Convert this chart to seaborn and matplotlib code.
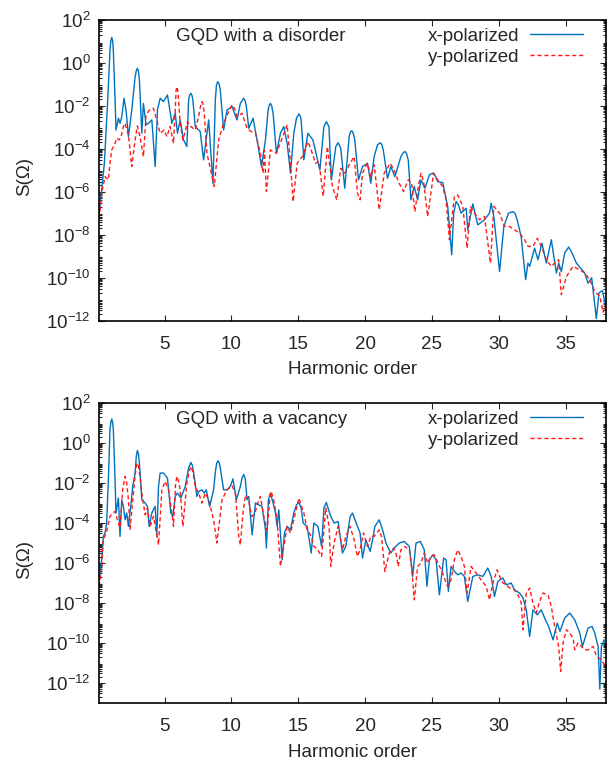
import numpy as np
import pandas as pd
import matplotlib
matplotlib.use('Agg')
import matplotlib.pyplot as plt
import seaborn as sns
from matplotlib.ticker import FixedLocator, LogLocator, NullFormatter

# values: harmonic order and log10 S(Omega)

# --- GQD with a disorder ---
dis_xpol_h = [0.12, 0.50, 0.75, 0.92, 1.05, 1.17, 1.30, 1.37, 1.55, 1.67,
              1.80, 1.97, 2.12, 2.30, 2.55, 2.80, 2.97, 3.12, 3.30, 3.42,
              3.62, 3.80, 4.05, 4.30, 4.47, 4.67, 4.92, 5.22, 5.55, 5.80,
              5.97, 6.17, 6.42, 6.67, 6.80, 6.97, 7.12, 7.30, 7.67, 7.92,
              8.30, 8.62, 8.80, 8.97, 9.17, 9.42, 9.67, 10.05, 10.42, 10.67,
              10.92, 11.12, 11.30, 11.62, 11.92, 12.25, 12.55, 12.75, 12.92, 13.12,
              13.37, 13.67, 13.92, 14.17, 14.42, 14.67, 14.87, 15.05, 15.22, 15.42,
              15.72, 16.10, 16.62, 16.92, 17.10, 17.30,
              17.48, 17.81, 17.98, 18.18, 18.48, 18.81, 19.01, 19.23, 19.51, 19.81,
              20.18, 20.43, 20.68, 20.93, 21.13, 21.36, 21.68, 21.93, 22.23, 22.68,
              22.98, 23.23, 23.43, 23.68, 23.93, 24.18, 24.48, 24.81, 25.06, 25.43,
              25.81, 26.18, 26.48, 26.63, 26.81, 26.98, 27.18, 27.56, 27.68, 28.06,
              28.43, 28.93, 29.31, 29.43, 29.63, 30.06, 30.38, 30.73, 31.06, 31.38,
              31.68, 32.01, 32.18, 32.31, 32.68, 32.93, 33.23, 33.56, 33.93, 34.31,
              34.48, 34.68, 34.93, 35.23, 35.48, 35.81, 36.43, 36.68, 36.95, 37.30,
              37.50, 37.75, 38.00]
dis_xpol_logS = [-6.99, -4.67, -1.72, 0.60, 1.19, 0.60, -1.72, -3.12, -2.57, -2.81,
                 -2.50, -1.64, -2.19, -3.43, -2.19, -0.64, -0.25, -0.79, -3.27, -1.88,
                 -2.88, -2.81, -2.65, -4.82, -2.19, -1.64, -1.80, -1.49, -2.81, -2.34,
                 -3.27, -2.65, -3.58, -3.89, -1.72, -1.41, -1.72, -2.96, -3.19, -4.51,
                 -2.65, -5.60, -1.72, -0.87, -1.26, -3.12, -2.19, -2.03, -2.65, -1.88,
                 -1.64, -2.03, -3.04, -2.57, -3.58, -4.82, -3.58, -2.19, -1.88, -2.34,
                 -4.20, -3.27, -2.96, -3.74, -5.13, -3.27, -2.57, -2.37, -2.65, -4.51,
                 -3.27, -3.58, -4.98, -2.96, -2.73, -2.96,
                 -5.44, -3.89, -3.71, -3.97, -5.83, -3.43, -3.15, -3.58, -5.44, -4.82,
                 -4.67, -5.60, -4.36, -3.81, -3.71, -4.05, -5.37, -4.82, -5.29, -4.36,
                 -4.12, -4.51, -6.37, -5.75, -6.37, -5.44, -5.83, -5.21, -5.13, -5.52,
                 -5.57, -6.68, -8.93, -6.99, -6.45, -6.60, -6.99, -6.76, -7.77, -6.56,
                 -7.54, -7.30, -6.99, -6.53, -7.15, -9.71, -7.61, -6.99, -6.92, -7.30,
                 -8.11, -10.09, -9.32, -9.47, -8.62, -9.16, -8.39, -9.32, -8.23, -9.78,
                 -9.32, -9.71, -8.85, -8.57, -8.85, -9.32, -9.78, -10.25, -10.0, -11.9,
                 -10.7, -10.6, -11.3]
# extra points read around the tops of the larger arches
dis_xpol_arch_h = [0.98, 1.12, 2.89, 3.05, 6.88, 7.05, 8.88, 9.07, 11.03, 12.83,
                   13.02, 15.14, 18.90, 19.12, 21.25, 22.85, 23.10, 25.25, 31.22]
dis_xpol_arch_logS = [1.02, 1.02, -0.35, -0.38, -1.50, -1.50, -1.05, -0.95, -1.75, -1.97,
                      -2.00, -2.45, -3.22, -3.28, -3.80, -4.18, -4.22, -5.25, -7.00]

dis_ypol_h = [0.12, 0.30, 0.55, 0.80, 0.92, 1.05, 1.30, 1.42, 1.62, 1.75,
              1.92, 2.05, 2.30, 2.55, 2.80, 2.97, 3.17, 3.42, 3.62, 3.87,
              4.17, 4.42, 4.67, 4.97, 5.17, 5.42, 5.67, 5.80, 5.92, 6.05,
              6.17, 6.37, 6.55, 6.72, 6.97, 7.30, 7.55, 7.80, 7.97, 8.17,
              8.42, 8.72, 9.05, 9.42, 9.80, 10.05, 10.42, 10.80, 11.17, 11.47,
              11.80, 12.17, 12.37, 12.47, 12.62, 12.92, 13.37, 13.75, 14.17, 14.42,
              14.62, 14.92, 15.30, 15.72, 15.97, 16.30, 16.55, 16.87, 17.18, 17.56,
              17.88, 18.18, 18.48, 18.88, 19.18, 19.43, 19.63, 19.81, 20.18, 20.43,
              20.68, 21.06, 21.43, 21.88, 22.18, 22.48, 22.88, 23.23, 23.48, 23.73,
              23.98, 24.18, 24.38, 24.68, 25.13, 25.43, 25.81, 26.06, 26.31, 26.68,
              26.93, 27.31, 27.63, 27.88, 28.18, 28.56, 28.93, 29.38, 29.63, 30.06,
              30.43, 30.81, 31.18, 31.56, 31.93, 32.18, 32.56, 32.88, 33.18, 33.56,
              33.93, 34.18, 34.48, 34.68, 35.06, 35.56, 36.06, 36.43, 36.81, 37.18,
              37.56, 37.80, 38.00]
dis_ypol_logS = [-7.23, -6.06, -5.29, -5.44, -4.67, -4.05, -3.74, -3.50, -3.58, -3.43,
                 -2.96, -2.81, -3.35, -4.82, -3.58, -2.93, -3.43, -4.36, -2.42, -2.19,
                 -2.11, -2.65, -3.27, -3.12, -3.43, -2.96, -3.74, -2.19, -1.10, -1.72,
                 -2.81, -3.58, -3.19, -2.73, -2.96, -3.12, -2.50, -1.80, -2.34, -4.20,
                 -4.90, -5.75, -3.58, -2.81, -2.26, -1.95, -2.50, -2.34, -3.04, -3.19,
                 -3.27, -4.20, -5.13, -4.05, -5.98, -4.05, -4.20, -3.58, -2.88, -4.67,
                 -6.45, -4.67, -4.36, -3.66, -4.05, -4.67, -4.59, -6.20, -3.89, -5.75,
                 -6.37, -4.90, -5.13, -4.67, -4.36, -6.06, -6.37, -5.13, -4.67, -5.29,
                 -4.74, -6.84, -5.13, -4.67, -4.98, -5.52, -5.98, -5.44, -5.60, -6.92,
                 -5.75, -5.13, -5.52, -7.15, -5.13, -5.44, -5.75, -6.37, -8.23, -6.22,
                 -6.14, -6.68, -8.62, -6.68, -6.99, -7.30, -7.15, -9.32, -6.68, -6.99,
                 -7.61, -7.61, -7.77, -7.92, -8.23, -8.54, -8.54, -8.16, -8.54, -9.16,
                 -9.47, -9.32, -9.16, -10.79, -9.94, -9.47, -9.63, -9.78, -10.09, -10.64,
                 -10.87, -11.6, -11.2]
dis_ypol_arch_h = [5.86, 5.99, 7.68, 7.89, 10.22]
dis_ypol_arch_logS = [-1.30, -1.30, -2.05, -1.95, -2.10]

# --- GQD with a vacancy ---
vac_xpol_h = [0.12, 0.30, 0.42, 0.55, 0.67, 0.80, 0.92, 1.05, 1.17, 1.30,
              1.37, 1.55, 1.67, 1.80, 1.92, 2.05, 2.17, 2.30, 2.47, 2.62,
              2.80, 2.97, 3.12, 3.30, 3.55, 3.72, 3.85, 4.05, 4.30, 4.42,
              4.55, 4.67, 4.92, 5.22, 5.47, 5.62, 5.80, 5.97, 6.22, 6.55,
              6.80, 6.97, 7.17, 7.42, 7.55, 7.80, 7.97, 8.12, 8.37, 8.67,
              8.82, 9.00, 9.17, 9.42, 9.67, 9.92, 10.12, 10.37, 10.67, 10.92,
              11.17, 11.30, 11.55, 11.80, 12.05, 12.30, 12.55, 12.62, 12.77, 12.92,
              13.12, 13.30, 13.42, 13.55, 13.80, 13.97, 14.17, 14.42, 14.67, 14.87,
              15.05, 15.22, 15.37, 15.67, 15.97, 16.17, 16.47, 16.75, 16.92, 17.10,
              17.43, 17.68, 17.98, 18.31, 18.56, 18.88, 19.06, 19.43, 19.63, 19.81,
              20.06, 20.38, 20.56, 20.73, 21.06, 21.31, 21.56, 21.93, 22.18, 22.56,
              22.93, 23.31, 23.56, 23.81, 24.13, 24.43, 24.63, 24.81, 25.06, 25.31,
              25.56, 25.88, 26.06, 26.23, 26.43, 26.68, 26.93, 27.18, 27.43, 27.68,
              28.06, 28.43, 28.81, 29.18, 29.43, 29.68, 29.93, 30.31, 30.56, 30.93,
              31.18, 31.56, 31.81, 32.06, 32.31, 32.56, 32.88, 33.18, 33.43, 33.73,
              34.06, 34.38, 34.58, 34.93, 35.31, 35.68, 36.06, 36.26, 36.68, 36.98,
              37.18, 37.43, 37.56, 37.68, 37.88, 38.00]
vac_xpol_logS = [-6.84, -5.84, -4.67, -4.50, -4.00, -1.84, 0.67, 1.20, 0.67, -1.84,
                 -3.50, -2.75, -4.67, -2.84, -3.17, -3.84, -3.50, -4.17, -3.17, -2.17,
                 -1.50, -0.37, -1.00, -2.84, -3.00, -3.17, -4.17, -3.50, -3.17, -4.67,
                 -2.17, -1.50, -1.50, -1.75, -3.50, -3.67, -2.67, -2.50, -2.75, -2.17,
                 -1.25, -0.97, -1.42, -2.67, -2.42, -2.34, -2.50, -2.34, -3.17, -2.34,
                 -1.34, -0.89, -1.25, -2.34, -2.34, -2.17, -1.79, -2.84, -2.17, -1.57,
                 -2.84, -2.67, -4.59, -3.00, -3.09, -3.17, -4.34, -5.25, -2.84, -2.50,
                 -3.00, -3.50, -4.17, -3.34, -5.84, -4.50, -4.17, -4.34, -3.50, -3.09,
                 -2.97, -3.25, -4.00, -4.17, -5.50, -4.00, -4.17, -5.17, -3.25, -2.97,
                 -3.67, -4.00, -3.92, -5.50, -5.17, -3.67, -3.50, -4.17, -4.50, -5.75,
                 -4.84, -5.42, -4.84, -4.17, -3.84, -4.34, -5.00, -5.50, -5.25, -5.00,
                 -4.92, -5.17, -6.67, -5.00, -4.92, -5.34, -7.17, -5.84, -5.59, -5.84,
                 -7.59, -5.75, -5.84, -7.42, -6.17, -6.42, -6.59, -6.50, -6.67, -7.92,
                 -6.67, -6.59, -6.67, -6.25, -6.67, -7.67, -6.92, -6.75, -7.09, -7.00,
                 -7.34, -7.50, -7.75, -8.34, -9.67, -8.34, -8.59, -8.34, -8.75, -9.17,
                 -9.84, -9.00, -9.42, -8.75, -8.50, -8.84, -9.50, -10.17, -9.25, -9.17,
                 -9.50, -10.17, -12.3, -10.17, -9.84, -10.0]
vac_xpol_arch_h = [0.98, 1.12, 2.89, 3.05, 7.07, 8.91, 9.09, 10.80, 11.04]
vac_xpol_arch_logS = [1.02, 1.02, -0.65, -0.55, -1.10, -1.00, -1.00, -1.75, -1.80]

vac_ypol_h = [0.12, 0.30, 0.42, 0.67, 0.92, 1.12, 1.30, 1.47, 1.67, 1.87,
              2.05, 2.30, 2.42, 2.67, 2.97, 3.30, 3.55, 3.72, 3.92, 4.17,
              4.55, 4.80, 5.05, 5.30, 5.55, 5.67, 5.92, 6.17, 6.37, 6.67,
              6.97, 7.30, 7.55, 7.80, 8.05, 8.30, 8.67, 8.92, 9.30, 9.67,
              10.05, 10.30, 10.55, 10.67, 10.87, 11.05, 11.30, 11.42, 11.55, 11.80,
              11.92, 12.17, 12.42, 12.67, 12.87, 12.97, 13.17, 13.42, 13.67, 13.92,
              14.17, 14.42, 14.67, 15.05, 15.42, 15.67, 15.97, 16.17, 16.47, 16.75,
              17.06, 17.31, 17.43, 17.68, 17.98, 18.18, 18.31, 18.56, 18.88, 19.18,
              19.43, 19.63, 19.88, 20.18, 20.43, 20.68, 21.06, 21.23, 21.48, 21.81,
              22.13, 22.31, 22.48, 22.68, 22.98, 23.31, 23.48, 23.68, 23.93, 24.18,
              24.43, 24.68, 24.93, 25.18, 25.56, 25.73, 25.93, 26.18, 26.43, 26.68,
              26.93, 27.18, 27.43, 27.63, 27.93, 28.31, 28.68, 29.06, 29.31, 29.56,
              29.88, 30.06, 30.31, 30.56, 30.81, 31.18, 31.43, 31.68, 31.81, 32.06,
              32.31, 32.56, 32.81, 33.06, 33.31, 33.68, 33.93, 34.18, 34.48, 34.63,
              34.81, 35.06, 35.31, 35.56, 35.68, 35.93, 36.18, 36.43, 36.68, 37.06,
              37.31, 37.68, 38.00]
vac_ypol_logS = [-7.17, -6.17, -4.84, -4.42, -3.67, -3.50, -3.42, -3.84, -4.25, -2.34,
                 -1.67, -2.84, -4.34, -2.50, -1.00, -2.50, -3.59, -3.25, -4.17, -3.67,
                 -5.09, -2.34, -1.92, -2.34, -3.50, -4.17, -1.67, -2.34, -4.17, -2.00,
                 -1.17, -2.17, -2.50, -3.00, -2.50, -2.84, -3.84, -5.00, -2.84, -2.34,
                 -2.14, -2.50, -4.67, -5.09, -3.50, -2.59, -2.84, -3.34, -3.67, -3.42,
                 -3.09, -2.67, -3.67, -4.34, -2.84, -2.42, -2.84, -3.84, -6.17, -5.17,
                 -4.17, -4.50, -3.84, -2.75, -3.50, -4.34, -4.67, -5.17, -5.34, -5.67,
                 -3.25, -4.17, -6.17, -5.00, -4.17, -4.84, -5.34, -4.67, -4.17, -4.84,
                 -5.67, -5.34, -4.50, -5.17, -4.67, -4.67, -4.34, -4.67, -6.42, -5.50,
                 -5.25, -5.50, -6.17, -5.34, -5.17, -5.34, -6.17, -7.84, -6.17, -6.00,
                 -5.50, -6.00, -5.67, -5.59, -6.17, -6.34, -6.75, -7.17, -6.84, -5.84,
                 -5.34, -5.67, -6.17, -7.50, -6.17, -6.50, -6.84, -7.17, -7.84, -7.00,
                 -6.34, -6.67, -7.00, -7.09, -7.25, -7.34, -7.59, -8.00, -9.34, -7.50,
                 -7.25, -8.00, -8.50, -7.92, -7.50, -7.59, -8.17, -9.17, -10.17, -11.42,
                 -10.00, -9.34, -9.50, -9.75, -10.34, -10.00, -10.17, -10.34, -10.34, -10.17,
                 -10.67, -10.84, -11.17]
vac_ypol_arch_h = [2.17, 2.82, 2.90, 3.05, 3.15, 5.82, 6.05, 6.85, 7.12]
vac_ypol_arch_logS = [-2.00, -1.50, -1.15, -1.15, -1.60, -2.10, -1.90, -1.40, -1.45]

titles = ['GQD with a disorder', 'GQD with a vacancy']
series_labels = ['x-polarized', 'y-polarized']
x_ticks = [5, 10, 15, 20, 25, 30, 35]
y_exponents = [-12, -10, -8, -6, -4, -2, 0, 2]

BLUE = '#0072bd'
RED = '#ff1a1a'
FS = 13.5

sns.set_style('ticks')
plt.rcParams['font.family'] = ['Liberation Sans', 'DejaVu Sans']
plt.rcParams['mathtext.default'] = 'regular'
plt.rcParams['xtick.direction'] = 'in'
plt.rcParams['ytick.direction'] = 'in'


def spectrum(h, logS, arch_h, arch_logS):
    df = pd.DataFrame({'h': list(h) + list(arch_h),
                       'logS': list(logS) + list(arch_logS)})
    df['S'] = 10.0 ** df['logS']
    return df.sort_values('h')


fig = plt.figure(figsize=(6.09, 7.62), dpi=100)

panels = [
    dict(rect=[0.1626, 0.5791, 0.832, 0.3946], ylim=(1e-12, 1e2), title=titles[0],
         dfx=spectrum(dis_xpol_h, dis_xpol_logS, dis_xpol_arch_h, dis_xpol_arch_logS),
         dfy=spectrum(dis_ypol_h, dis_ypol_logS, dis_ypol_arch_h, dis_ypol_arch_logS)),
    dict(rect=[0.1626, 0.0774, 0.832, 0.3937], ylim=(1e-13, 1e2), title=titles[1],
         dfx=spectrum(vac_xpol_h, vac_xpol_logS, vac_xpol_arch_h, vac_xpol_arch_logS),
         dfy=spectrum(vac_ypol_h, vac_ypol_logS, vac_ypol_arch_h, vac_ypol_arch_logS)),
]

for p in panels:
    ax = fig.add_axes(p['rect'])
    sns.lineplot(data=p['dfx'], x='h', y='S', ax=ax, color=BLUE, lw=1.0,
                 label=series_labels[0], estimator=None)
    sns.lineplot(data=p['dfy'], x='h', y='S', ax=ax, color=RED, lw=1.0,
                 label=series_labels[1], estimator=None, linestyle='--')
    ax.lines[1].set_dashes([3, 2])

    ax.set_yscale('log')
    ax.set_xlim(0.1, 38.0)
    ax.set_ylim(*p['ylim'])

    ax.xaxis.set_major_locator(FixedLocator(x_ticks))
    ax.set_xticklabels([str(t) for t in x_ticks])
    ax.yaxis.set_major_locator(FixedLocator([10.0 ** e for e in y_exponents]))
    ax.set_yticklabels([f'$10^{{{e}}}$' for e in y_exponents])
    ax.yaxis.set_minor_locator(LogLocator(base=10, subs=np.arange(2, 10), numticks=100))
    ax.yaxis.set_minor_formatter(NullFormatter())
    ax.tick_params(which='both', top=True, right=True, labelsize=FS, width=0.8)
    ax.tick_params(which='major', length=4.5)
    ax.tick_params(axis='x', which='major', pad=11)
    ax.tick_params(axis='y', which='major', pad=6)
    ax.tick_params(which='minor', length=2.5)
    for s in ax.spines.values():
        s.set_linewidth(1.2)
        s.set_color('black')

    ax.set_xlabel('Harmonic order', fontsize=FS, labelpad=6)
    ax.set_ylabel('S(Ω)', fontsize=FS)
    ax.yaxis.set_label_coords(-0.13, 0.48)

    ax.text(0.152, 0.945, p['title'], transform=ax.transAxes, ha='left', va='center',
            fontsize=FS)
    ax.legend(loc='upper right', bbox_to_anchor=(0.955, 0.975), frameon=False,
              markerfirst=False, handlelength=2.8, handletextpad=0.6,
              labelspacing=0.2, borderpad=0, borderaxespad=0, fontsize=FS)

fig.savefig('out.png', dpi=100)
